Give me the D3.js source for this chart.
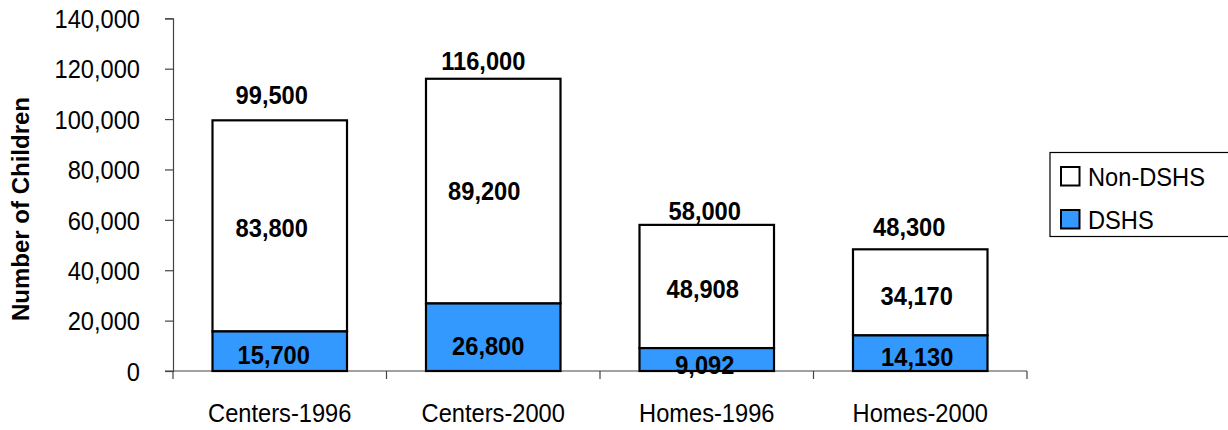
<!DOCTYPE html>
<html>
<head>
<meta charset="utf-8">
<script src="https://cdn.jsdelivr.net/npm/d3@7"></script>
<style>
  html, body { margin: 0; padding: 0; background: #fff; }
  svg { display: block; font-family: "Liberation Sans", Arial, sans-serif; }
</style>
</head>
<body>
<svg id="chart" width="1228" height="430"></svg>
<script>
// Child care capacity by provider type and year
const categories = ["Centers-1996", "Centers-2000", "Homes-1996", "Homes-2000"];
const dshs      = [15700, 26800, 9092, 14130];
const nonDshs   = [83800, 89200, 48908, 34170];
const totals    = [99500, 116000, 58000, 48300];
const yTicks    = [0, 20000, 40000, 60000, 80000, 100000, 120000, 140000];
const seriesNames = ["Non-DSHS", "DSHS"];

// hand-placed label nudges (px): [dx, dy]
const totalNudge   = [[-8, -16], [-10, -9], [-2, -5], [-11, -13]];
const nonDshsNudge = [[-8, 1.5], [-9, 0], [-4, 2], [-3.5, 3]];
const dshsNudge    = [[-6, 3], [-5, 8], [-2, 5], [-3, 3.5]];

const BLUE = "#3399ff";
const AXIS = "#444";
const FONT = 26;        // text size
const SQUEEZE = 0.91;   // horizontal text compression
const fmt = d3.format(",");

const svg = d3.select("#chart");

const x = d3.scaleBand().domain(categories).range([173, 1027]).paddingInner(0.37).paddingOuter(0.185);
const y = d3.scaleLinear().domain([0, 140000]).range([371, 18.3]);

// narrow text placed at (tx, ty)
function squeezedText(parent, tx, ty, str, anchor) {
  return parent.append("text")
    .attr("transform", `translate(${tx},${ty}) scale(${SQUEEZE},1)`)
    .attr("text-anchor", anchor || "middle")
    .attr("font-size", FONT)
    .text(str);
}

// y axis
const yAxis = svg.append("g")
  .attr("transform", "translate(173,0)")
  .call(d3.axisLeft(y).tickValues(yTicks).tickFormat(fmt).tickSize(8));
yAxis.select(".domain").attr("stroke", AXIS).attr("stroke-width", 1.2);
yAxis.selectAll(".tick line").attr("stroke", AXIS).attr("stroke-width", 1.2);
yAxis.selectAll(".tick text")
  .attr("x", null).attr("dy", null)
  .attr("transform", `translate(-33,9.3) scale(${SQUEEZE},1)`)
  .attr("font-size", FONT).attr("fill", "#000")
  .attr("font-family", "Liberation Sans, Arial, sans-serif");

// x axis with boundary ticks between categories
const xAxisG = svg.append("g").attr("transform", "translate(0,371)");
xAxisG.append("line").attr("x1", 165).attr("x2", 1027).attr("y1", 0).attr("y2", 0)
  .attr("stroke", AXIS).attr("stroke-width", 1.2);
const boundaries = [173].concat(categories.map(c => x(c) + x.bandwidth() / 2 + x.step() / 2));
xAxisG.selectAll("line.b").data(boundaries).enter().append("line")
  .attr("class", "b")
  .attr("x1", d => d).attr("x2", d => d).attr("y1", 0).attr("y2", 8)
  .attr("stroke", AXIS).attr("stroke-width", 1.2);
categories.forEach(c => squeezedText(xAxisG, x(c) + x.bandwidth() / 2, 51, c));

// y axis title
svg.append("text")
  .attr("transform", "translate(29,209) rotate(-90)")
  .attr("text-anchor", "middle")
  .attr("font-size", 24)
  .attr("font-weight", "bold")
  .text("Number of Children");

// stacked bars
const bars = svg.append("g");
categories.forEach((c, i) => {
  const bx = x(c), bw = x.bandwidth();
  bars.append("rect")
    .attr("x", bx).attr("width", bw)
    .attr("y", y(dshs[i] + nonDshs[i])).attr("height", y(dshs[i]) - y(dshs[i] + nonDshs[i]))
    .attr("fill", "#fff").attr("stroke", "#000").attr("stroke-width", 2.2);
  bars.append("rect")
    .attr("x", bx).attr("width", bw)
    .attr("y", y(dshs[i])).attr("height", y(0) - y(dshs[i]))
    .attr("fill", BLUE).attr("stroke", "#000").attr("stroke-width", 2.2);
});

// value labels
const labels = svg.append("g").attr("font-weight", "bold");
const half = FONT * 0.358; // half the digit height
categories.forEach((c, i) => {
  const cx = x(c) + x.bandwidth() / 2;
  squeezedText(labels, cx + totalNudge[i][0], y(totals[i]) + totalNudge[i][1], fmt(totals[i]));
  squeezedText(labels, cx + nonDshsNudge[i][0],
    (y(dshs[i]) + y(dshs[i] + nonDshs[i])) / 2 + nonDshsNudge[i][1] + half, fmt(nonDshs[i]));
  squeezedText(labels, cx + dshsNudge[i][0],
    (y(0) + y(dshs[i])) / 2 + dshsNudge[i][1] + half, fmt(dshs[i]));
});

// legend
const legend = svg.append("g");
legend.append("rect").attr("x", 1050).attr("y", 152.5).attr("width", 200).attr("height", 84)
  .attr("fill", "#fff").attr("stroke", "#000").attr("stroke-width", 1.2);
const legendFill = ["#fff", BLUE];
seriesNames.forEach((name, i) => {
  const ly = 167 + i * 43;
  legend.append("rect").attr("x", 1061).attr("y", ly).attr("width", 18.5).attr("height", 18.5)
    .attr("fill", legendFill[i]).attr("stroke", "#000").attr("stroke-width", 2);
  squeezedText(legend, 1088, ly + 18.5, name, "start");
});
</script>
</body>
</html>
